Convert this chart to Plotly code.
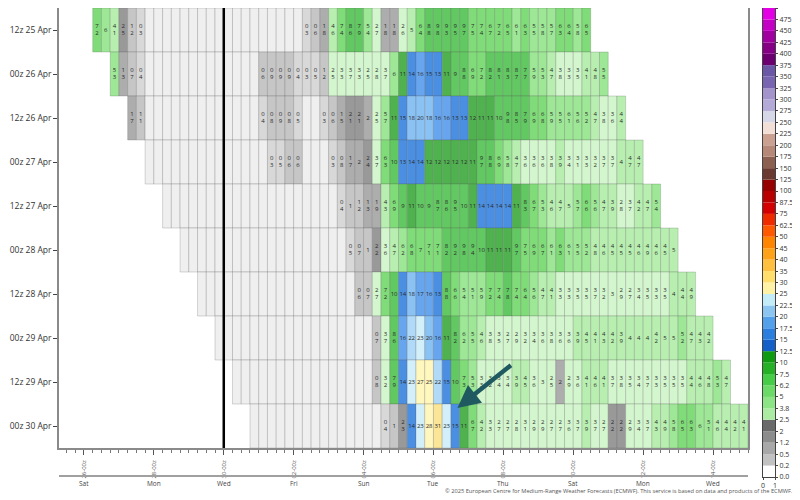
import plotly.graph_objects as go
from datetime import datetime, timedelta

# ---------------- data ----------------
ROW_LABELS = ["12z 25 Apr", "00z 26 Apr", "12z 26 Apr", "00z 27 Apr", "12z 27 Apr",
              "00z 28 Apr", "12z 28 Apr", "00z 29 Apr", "12z 29 Apr", "00z 30 Apr"]

ROW_0 = [7.2, 6, 4.1, 2.47, 1.2, 0.3,
         0, 0, 0, 0, 0, 0, 0, 0, 0, 0, 0, 0, 0, 0, 0, 0, 0, 0,
         0.3, 0.6, 1.8, 4.6, 7.4, 8.6, 7.9, 5.4, 2.7, 1.8, 1.8, 2.6, 5, 6.4, 8.8, 9.8, 9.3,
         9.5, 9.7, 7.5, 7.4, 6.7, 7.2, 6.5, 6.1, 6.3, 5.5, 5.8, 5.7, 6.3, 6.4, 5.8, 6.5]
ROW_1 = [5.3, 1.3, 0.7, 0.4,
         0, 0, 0, 0, 0, 0, 0, 0, 0, 0, 0, 0, 0,
         0.6, 0.9, 0.9, 0.9, 0.4, 0.3, 0.5, 1.2, 2.53, 3.3, 3.7, 3.3, 2.53, 2.8, 3.7, 6,
         11, 14, 16, 15, 13, 11, 9, 8.8, 6.9, 7.2, 8.2, 8.1, 8.3, 8.7, 7.7, 5.9, 5.3, 4.7,
         3.8, 3.3, 3.5, 4.1, 4.8, 5.5]
ROW_2 = [1.7, 1.1,
         0, 0, 0, 0, 0, 0, 0, 0, 0, 0, 0, 0, 0,
         0.4, 0.8, 0.9, 0.8, 0.5, 0, 0, 0.3, 0.6, 1.5, 2.1, 2.1, 2, 2.53, 5.7,
         11, 15, 18, 20, 18, 16, 16, 13, 13, 12, 11, 11, 10, 9.8, 8.5, 7.9, 6.9, 6.8, 5.9,
         5.5, 6.1, 5.6, 5.2, 4.7, 3.8, 3.6, 4.4]
ROW_3 = [0, 0, 0, 0, 0, 0, 0, 0, 0, 0, 0, 0, 0, 0,
         0.3, 0.5, 0.6, 0.6, 0, 0, 0, 0.3, 0.8, 1.7, 2, 2.4, 3.7, 6.3,
         10, 13, 14, 14, 12, 12, 12, 12, 12, 11, 9.7, 8.8, 6.9, 5.8, 4.7, 3.6, 3.6, 3.6,
         3.8, 3.9, 3.4, 3.1, 3.3, 3.2, 3.7, 3.7, 4, 4.7, 4.7]
ROW_4 = [0, 0, 0, 0, 0, 0, 0, 0, 0, 0, 0, 0, 0, 0, 0, 0, 0, 0, 0, 0,
         0.4, 1, 1.2, 1.3, 1.9, 4.3, 6.9, 9, 11, 10, 9, 8.7, 8.6, 9.5, 10, 11,
         14, 14, 14, 14, 11, 8.3, 6.7, 5.3, 4.6, 4.7, 5, 5.7, 6.6, 5.6, 4.7, 3.9, 2.8,
         3.7, 4.2, 4.7, 5.4]
ROW_5 = [0, 0, 0, 0, 0, 0, 0, 0, 0, 0, 0, 0, 0, 0, 0, 0, 0, 0, 0,
         0.5, 0.7, 1, 2.2, 3.6, 4.7, 6.2, 6.8, 7, 7.1, 7.1, 8.2, 9.2, 9.8, 9.4,
         10, 11, 11, 11, 9.7, 7.5, 6.9, 6.7, 6.1, 6.3, 6.1, 5.5, 5.2, 4.8, 4.6, 4.5, 4.5,
         4.5, 4.6, 4.9, 4.6, 4.5, 5]
ROW_6 = [0, 0, 0, 0, 0, 0, 0, 0, 0, 0, 0, 0, 0, 0, 0, 0, 0, 0,
         0.6, 0.7, 2.7, 7.2, 10, 14, 18, 17, 16, 13, 8.8, 6.6, 5.4, 5.1, 5.9, 7.2, 7.4,
         7.8, 7.4, 6.4, 5.6, 4.7, 4.1, 3.3, 3.3, 3.5, 3.5, 3.7, 3.2, 3, 2.9, 2.7, 3.4, 3.5,
         3.3, 3.5, 4, 4.4, 4.9]
ROW_7 = [0, 0, 0, 0, 0, 0, 0, 0, 0, 0, 0, 0, 0, 0, 0, 0, 0, 0,
         0.7, 3.7, 8.6, 16, 22, 23, 20, 16, 11, 8.2, 6.2, 5.5, 4.6, 3.8, 3.5, 2.7, 2.9,
         3.2, 3.4, 3.6, 3.8, 3.6, 3.6, 3.9, 4.5, 4.1, 4.3, 4.2, 3.9, 4, 4, 4, 4.2, 5, 5,
         5.2, 4.7, 4.3, 4.2]
ROW_8 = [0, 0, 0, 0, 0, 0, 0, 0, 0, 0, 0, 0, 0, 0, 0, 0,
         0.8, 3.2, 7.9, 14, 23, 27, 25.3, 22, 15, 10, 7.3, 5.3, 3.3, 3.2, 3.4, 3.4, 3.9,
         4.5, 3.6, 3, 2.53, 2, 2.9, 3.6, 4.1, 4.6, 4.1, 3.7, 3.8, 3.5, 3.4, 3.7, 3.3, 3.5,
         3.5, 3.5, 4.4, 4.6, 4.8, 5.3, 4.7]
ROW_9 = [0, 0, 0, 0, 0, 0, 0, 0, 0, 0, 0, 0, 0, 0, 0,
         0.4, 1, 2.3, 14, 23, 28, 31, 23, 15, 11, 6.7, 4.2, 3.3, 2.7, 2.7, 2.8, 3.1, 2.9,
         2.9, 2.7, 2.7, 3.6, 3.7, 3.9, 3.7, 2.7, 2.2, 2.2, 2.9, 3.4, 3.7, 4.3, 4.9, 5.8,
         6.5, 6.3, 6, 5.1, 4.6, 4.4, 4.2, 4.1]
ROWS = [ROW_0, ROW_1, ROW_2, ROW_3, ROW_4, ROW_5, ROW_6, ROW_7, ROW_8, ROW_9]

# colour classes (upper bound inclusive)
BOUNDS = [0, 0.2, 0.5, 1.2, 2, 2.5, 3.8, 5, 6.2, 7.5, 10, 12.5, 15, 17.5, 20, 22.5, 25,
          30, 35, 40, 45, 50, 62.5, 75, 87.5, 100, 125, 150, 175, 200, 225, 250, 275,
          300, 325, 350, 375, 400, 425, 450, 475, 500]
BOUND_LABELS = ["0.0", "0.2", "0.5", "1.2", "2", "2.5", "3.8", "5", "6.2", "7.5", "10",
                "12.5", "15", "17.5", "20", "22.5", "25", "30", "35", "40", "45", "50",
                "62.5", "75", "87.5", "100", "125", "150", "175", "200", "225", "250",
                "275", "300", "325", "350", "375", "400", "425", "450", "475", "500"]
BAR_COLORS = ["#ffffff", "#c2c2c2", "#a8a8a8", "#8c8c8c", "#6a6a6a",
              "#abeca2", "#8ce484", "#6cda66", "#46cc46", "#26b026", "#0f9a0f",
              "#1460c8", "#2a7ede", "#52a0ea", "#8cc6f0", "#c4ecf8", "#fff2a4",
              "#ffde6c", "#ffc040", "#ffa21a", "#ff8400", "#ff5a00", "#ee2c00",
              "#d40000", "#b80000", "#960000", "#6a3a30", "#8c6050", "#b68878",
              "#caa090", "#f2e0d6", "#d6d8e8", "#b4aad8", "#a494cc", "#7864b0",
              "#6a58a6", "#6c0070", "#860086", "#a000a0", "#c400c4", "#e400e4"]
CELL_COLORS = ["#f7f7f7", "#d8d8d8", "#c6c6c6", "#adadad", "#999999",
               "#d4f6ce", "#b8efb0", "#9de796", "#80dc78", "#62c862", "#4fb24f",
               "#4a8fe2", "#67a6ee", "#8bc2f4", "#b0daf7", "#d3f0fa", "#fff7bd",
               "#fbe596"]
ZERO_COLOR = "#efefef"

FIRST_CELL = datetime(2025, 4, 26, 6)   # first 6-h cell of the first run row
ROW_SHIFT_H = 12
STEP_H = 6
NOW = datetime(2025, 4, 30, 0)
X_START = datetime(2025, 4, 25, 6, 51)
X_END = datetime(2025, 5, 15, 0)
TICK_START = datetime(2025, 4, 26)
TICK_DAYS = 2
ARROW_HEAD = (datetime(2025, 5, 6, 16, 27), 8.59)

FONT = "Open Sans"


def cell_color(v):
    if v == 0:
        return ZERO_COLOR
    for i in range(1, len(BOUNDS)):
        if v <= BOUNDS[i]:
            idx = i - 1
            return CELL_COLORS[idx] if idx < len(CELL_COLORS) else BAR_COLORS[idx]
    return BAR_COLORS[-1]


def cell_text(v):
    if v == 0:
        return ""
    if v >= 9.95:
        return str(int(round(v)))
    r = round(v, 1)
    whole = int(r)
    dec = int(round((r - whole) * 10))
    if dec == 10:
        whole, dec = whole + 1, 0
    return str(whole) if dec == 0 else f"{whole}<br>{dec}"


fmt = "%Y-%m-%d %H:%M"
bases, lens, ys, cols, tx, ty, tt = [], [], [], [], [], [], []
for r, vals in enumerate(ROWS):
    for k, v in enumerate(vals):
        start = FIRST_CELL + timedelta(hours=ROW_SHIFT_H * r + STEP_H * k)
        bases.append(start.strftime(fmt))
        lens.append(STEP_H * 3600 * 1000)
        ys.append(r)
        cols.append(cell_color(v))
        txt = cell_text(v)
        if txt:
            tx.append((start + timedelta(hours=STEP_H / 2)).strftime(fmt))
            ty.append(r)
            tt.append(txt)

fig = go.Figure()
fig.add_trace(go.Bar(
    orientation="h", base=bases, x=lens, y=ys, width=1,
    marker=dict(color=cols, line=dict(color="rgba(90,90,90,0.4)", width=0.6)),
    hoverinfo="skip", showlegend=False, xaxis="x", yaxis="y"))
fig.add_trace(go.Scatter(
    x=tx, y=ty, text=tt, mode="text", textposition="middle center",
    textfont=dict(size=6, color="#2a2a2a", family=FONT),
    hoverinfo="skip", showlegend=False, xaxis="x", yaxis="y"))

# colour bar (small axes on the right)
nb = len(BAR_COLORS)
fig.add_trace(go.Bar(
    x=[0.5] * nb, y=[1 / nb] * nb, base=[i / nb for i in range(nb)], width=1,
    marker=dict(color=BAR_COLORS, line=dict(width=0)),
    hoverinfo="skip", showlegend=False, xaxis="x2", yaxis="y2"))

# layout geometry (figure pixels; the page adds an 8px offset)
W, H = 800, 500
PL, PR, PT, PB = 51, 740, 0, 440      # main plot box
CL, CR, CB = 755, 767, 469            # colour bar box
ML, MT = PL, PT
MR, MB = W - CR, H - CB
pw, ph = CR - ML, CB - MT

fig.update_layout(
    width=W, height=H, margin=dict(l=ML, r=MR, t=MT, b=MB),
    paper_bgcolor="white", plot_bgcolor="white",
    barmode="overlay", font=dict(family=FONT, color="#333"),
    xaxis=dict(type="date", domain=[0, (PR - ML) / pw],
               range=[X_START.strftime(fmt), X_END.strftime(fmt)],
               anchor="y", tick0=TICK_START.strftime(fmt), dtick=TICK_DAYS * 86400000,
               tickformat="%d-%Hz", tickangle=-90, ticks="outside", ticklen=5, tickcolor="#555",
               ticklabelstandoff=3,
               tickfont=dict(size=6, color="#555"),
               minor=dict(dtick=STEP_H * 3600000, ticks="outside", ticklen=3, tickcolor="#777"),
               showgrid=False, zeroline=False, showline=True, mirror=True,
               linecolor="#8a8a8a", linewidth=1.5, automargin=False, fixedrange=True),
    yaxis=dict(domain=[(CB - PB) / ph, 1], range=[9.5, -0.5], anchor="x",
               tickvals=list(range(len(ROW_LABELS))), ticktext=ROW_LABELS,
               ticks="outside", ticklen=4, tickcolor="#444",
               tickfont=dict(size=8.5, color="#333"),
               showgrid=False, zeroline=False, showline=True, mirror=True,
               linecolor="#8a8a8a", linewidth=1.5, automargin=False, fixedrange=True),
    xaxis2=dict(domain=[(CL - ML) / pw, 1], range=[0, 1], anchor="y2",
                tickvals=[0, 1], ticktext=["0", "1"], ticks="outside", ticklen=2,
                tickfont=dict(size=7, color="#333"), showgrid=False, zeroline=False,
                showline=True, mirror=True, linecolor="#444", linewidth=1,
                automargin=False, fixedrange=True),
    yaxis2=dict(domain=[0, 1], range=[0, 1], anchor="x2", side="right",
                tickvals=[i / nb for i in range(nb + 1)], ticktext=BOUND_LABELS,
                ticks="outside", ticklen=2, tickfont=dict(size=7, color="#333"),
                showgrid=False, zeroline=False, showline=True, mirror=True,
                linecolor="#444", linewidth=1, automargin=False, fixedrange=True),
)

# "now" line
fig.add_shape(type="line", xref="x", yref="y domain", x0=NOW.strftime(fmt), x1=NOW.strftime(fmt),
              y0=0, y1=1, line=dict(color="black", width=2.5))
# separator line under the date labels
fig.add_shape(type="line", xref="x domain", yref="paper", x0=0, x1=1, y0=0.002, y1=0.002,
              line=dict(color="#a0a0a0", width=2))

# day names under the date ticks
annos = []
d = TICK_START
while d < X_END:
    annos.append(dict(x=d.strftime(fmt), y=(CB - 475) / ph, xref="x", yref="paper",
                      text=d.strftime("%a"), showarrow=False, yanchor="middle",
                      font=dict(size=6.5, color="#444", family=FONT)))
    d += timedelta(days=TICK_DAYS)

annos.append(dict(x=(787 - ML) / pw, y=(CB - 483) / ph, xref="paper", yref="paper",
                  xanchor="right", yanchor="middle", showarrow=False,
                  text="© 2025 European Centre for Medium-Range Weather Forecasts (ECMWF). "
                       "This service is based on data and products of the ECMWF.",
                  font=dict(size=5.7, color="#555", family=FONT)))
annos.append(dict(x=ARROW_HEAD[0].strftime(fmt), y=ARROW_HEAD[1], xref="x", yref="y",
                  ax=55, ay=-44, text="", showarrow=True, arrowhead=2, arrowsize=1,
                  arrowwidth=4.5, arrowcolor="#1e5a60", standoff=0))
fig.update_layout(annotations=annos)

fig.write_html("out.html")
